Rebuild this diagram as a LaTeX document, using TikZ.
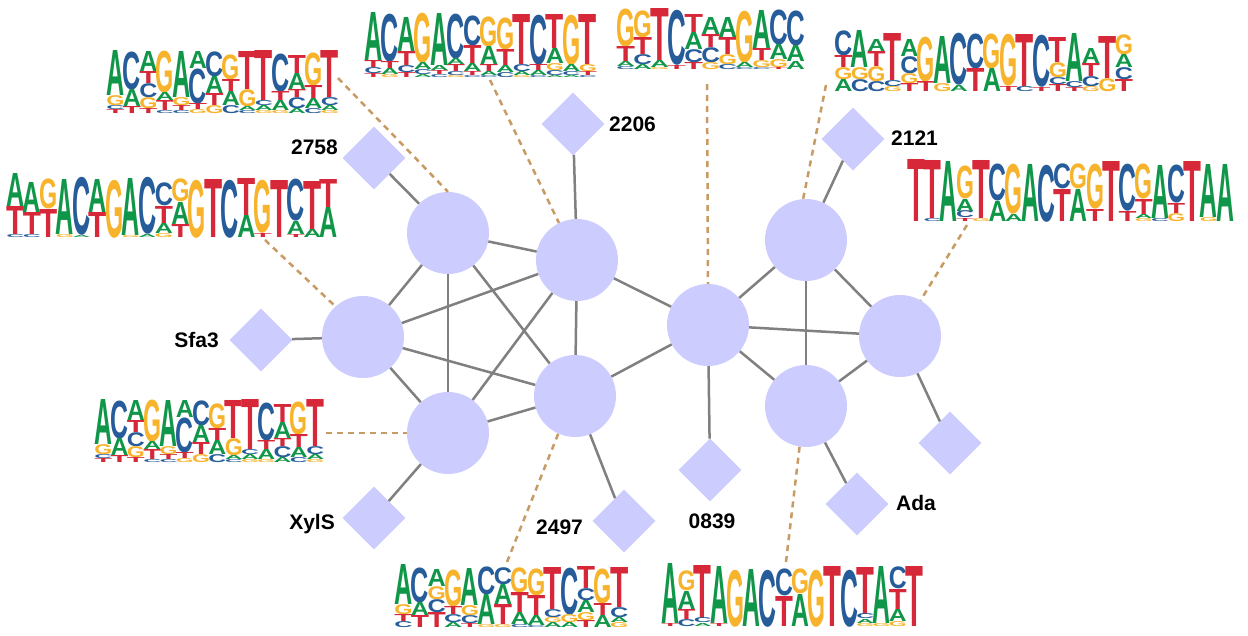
\documentclass[tikz,border=0pt]{standalone}
\usepackage{fontspec}
\setmainfont{Liberation Sans}
\usepackage{graphicx}
\usetikzlibrary{shapes.geometric}
\definecolor{cA}{HTML}{109648}
\definecolor{cC}{HTML}{255C99}
\definecolor{cG}{HTML}{F7B32B}
\definecolor{cT}{HTML}{D62839}
\definecolor{lav}{HTML}{CCCCFF}
\definecolor{edgegrey}{HTML}{808080}
\definecolor{dtan}{RGB}{200,155,100}
\newdimen\lw
\newcommand\Lt[2]{\hbox to\lw{\hss\resizebox*{1.1\lw}{#2pt}{\textcolor{c#1}{#1}}\hss}}
\newcommand\Cl[1]{\vbox{\offinterlineskip\foreach \xl/\xh in {#1}{\Lt{\xl}{\xh}}}\ignorespaces}
\newcommand\LogoOne{%
\Cl{A/45,G/10,C/4,T/4}
\Cl{C/38,A/17,T/7}
\Cl{A/20,T/12,C/14,G/11,T/5}
\Cl{G/42,A/8,T/10,C/3}
\Cl{A/46,G/8,T/5,C/3}
\Cl{A/17,C/35,T/6,G/4}
\Cl{C/25,A/17,T/12,G/8}
\Cl{G/25,T/12,A/14,C/8}
\Cl{T/38,G/17,A/4,C/3}
\Cl{T/50,C/5,A/5,G/3}
\Cl{C/38,T/9,A/10,G/3}
\Cl{T/18,A/16,T/8,C/11,A/5}
\Cl{G/33,T/13,A/10,C/5}
\Cl{T/47,C/8,A/5,G/3}}
\begin{document}
\begin{tikzpicture}[x=1pt,y=-1pt,
  circ/.style={circle, fill=lav, minimum size=82pt, inner sep=0pt},
  dia/.style={diamond, fill=lav, minimum width=63pt, minimum height=63pt, inner sep=0pt, aspect=1},
  lbl/.style={font=\fontsize{21}{24}\selectfont\bfseries, inner sep=0pt, text height=15pt, text depth=0pt},
  gline/.style={draw=edgegrey, line width=2.5pt},
  dline/.style={draw=dtan, line width=2.5pt, dash pattern=on 6pt off 5pt},
  logo/.style={inner sep=0pt, anchor=south west, font=\bfseries}]
\useasboundingbox[fill=white] (0,0) rectangle (1248,635);

% logos
\node[logo] (l1) at (107,114) {\lw=16.5pt \LogoOne};
\node[logo] (l2) at (365,78) {\lw=16.5pt
\Cl{A/48,T/7,C/6,T/4}
\Cl{C/48,T/7,A/6,G/3}
\Cl{A/34,T/14,C/7,T/5}
\Cl{G/50,A/7,C/5,A/3}
\Cl{A/52,A/5,T/4,C/3}
\Cl{C/45,A/6,T/7,C/4,G/2}
\Cl{C/30,T/18,A/8,T/4,C/2}
\Cl{G/30,A/18,T/7,A/4,C/2}
\Cl{G/32,T/16,A/7,C/5}
\Cl{T/50,C/7,A/4,G/2}
\Cl{C/50,T/6,A/5,C/2}
\Cl{T/34,A/15,G/7,C/5,A/2}
\Cl{G/50,A/7,C/4,A/2}
\Cl{T/50,G/7,T/4,C/2}};
\node[logo] (l3) at (617,70) {\lw=17pt
\Cl{G/38,T/15,A/5,C/3}
\Cl{G/27,T/17,C/10,A/5}
\Cl{T/52,A/7,G/2}
\Cl{C/55,T/4}
\Cl{T/18,A/17,C/13,T/7}
\Cl{A/17,T/13,C/15,G/7}
\Cl{A/20,T/17,G/10,C/5}
\Cl{G/52,A/5,C/2}
\Cl{A/38,T/12,G/7,C/2}
\Cl{C/35,A/15,G/8,T/2}
\Cl{C/35,A/16,A/8}};
\node[logo] (l4) at (835,92) {\lw=16.5pt
\Cl{C/25,T/12,G/12,A/12}
\Cl{A/37,G/12,C/12}
\Cl{A/12,T/15,G/15,C/10}
\Cl{T/47,C/6,G/5}
\Cl{A/17,C/17,G/10,T/8}
\Cl{G/45,T/10}
\Cl{A/47,G/8}
\Cl{C/52,A/6}
\Cl{C/35,T/23}
\Cl{G/35,A/23}
\Cl{G/52,T/5}
\Cl{T/52,C/5}
\Cl{C/52,T/4}
\Cl{T/25,G/15,C/7,T/7}
\Cl{A/48,C/6,T/4}
\Cl{A/15,T/13,C/10,G/5}
\Cl{T/42,G/13}
\Cl{G/20,A/13,C/12,T/12}};
\node[logo] (l5) at (7,238) {\lw=16.5pt
\Cl{A/33,T/28,C/3}
\Cl{A/30,T/22,C/3}
\Cl{G/30,T/28}
\Cl{A/55,G/3}
\Cl{C/58,A/2}
\Cl{A/33,T/25}
\Cl{G/58}
\Cl{A/57,G/2}
\Cl{C/57,A/3}
\Cl{C/23,T/17,A/10,G/4}
\Cl{G/23,A/22,T/13}
\Cl{G/58}
\Cl{T/58}
\Cl{C/58}
\Cl{T/37,A/22}
\Cl{G/53,T/4}
\Cl{T/57}
\Cl{C/42,A/13,T/3}
\Cl{T/48,A/8}
\Cl{T/28,A/30}};
\node[logo] (l6) at (908,222) {\lw=16.25pt
\Cl{T/62}
\Cl{T/58,C/3}
\Cl{A/60}
\Cl{G/33,A/12,C/7,T/3}
\Cl{T/58,G/3}
\Cl{C/37,A/20}
\Cl{G/50,A/7}
\Cl{A/57}
\Cl{C/57}
\Cl{C/25,T/32}
\Cl{G/25,A/32}
\Cl{G/45,T/12}
\Cl{T/60}
\Cl{C/47,T/10}
\Cl{G/35,T/15,A/4,G/3}
\Cl{A/53,C/3}
\Cl{C/38,T/10,G/8}
\Cl{T/60}
\Cl{A/53,G/4}
\Cl{A/57}};
\node[logo] (l7) at (95,463) {\lw=16.3pt \LogoOne};
\node[logo] (l8) at (395,628) {\lw=16.6pt
\Cl{A/40,G/10,T/7,C/6}
\Cl{C/35,A/13,T/12}
\Cl{A/17,G/13,C/13,T/15}
\Cl{G/37,T/8,C/8,A/5}
\Cl{A/37,G/10,C/8,T/4}
\Cl{C/28,A/30,G/3}
\Cl{C/17,A/20,T/20,G/3}
\Cl{G/25,T/20,A/12,C/3}
\Cl{G/27,T/20,A/10,C/2}
\Cl{T/42,C/8,G/5,A/5}
\Cl{C/47,G/8,A/5}
\Cl{T/22,C/12,A/12,G/8,T/7}
\Cl{G/35,T/12,A/12}
\Cl{T/40,C/10,A/5,G/5}};
\node[logo] (l9) at (662,627) {\lw=16.25pt
\Cl{A/60,T/3}
\Cl{G/20,A/18,T/10,C/7}
\Cl{T/53,C/5,A/3}
\Cl{A/57,T/3}
\Cl{G/57}
\Cl{A/57}
\Cl{C/57}
\Cl{C/27,T/30}
\Cl{G/25,A/32}
\Cl{G/57}
\Cl{T/60}
\Cl{C/57}
\Cl{T/47,C/5,A/4,G/3}
\Cl{A/57,G/3}
\Cl{C/22,T/20,A/12,G/5}
\Cl{T/60}};

% circles
\node[circ] (c1) at (448,233) {};
\node[circ] (c2) at (577,260) {};
\node[circ] (c3) at (363,337) {};
\node[circ] (c4) at (448,433) {};
\node[circ] (c5) at (575,396) {};
\node[circ] (c6) at (708,325) {};
\node[circ] (c7) at (806,240) {};
\node[circ] (c8) at (900,336) {};
\node[circ] (c9) at (806,406) {};

% diamonds
\node[dia] (d2758) at (374,158) {};
\node[dia] (d2206) at (573,124) {};
\node[dia] (d2121) at (853,139) {};
\node[dia] (dsfa) at (261,340) {};
\node[dia] (dxyl) at (374,518) {};
\node[dia] (d2497) at (624,521) {};
\node[dia] (d0839) at (710,470) {};
\node[dia] (dada) at (857,504) {};
\node[dia] (dun) at (950,443) {};

% labels
\node[lbl, anchor=east] (t2758) at (338,147) {2758};
\node[lbl, anchor=west] (t2206) at (609,124) {2206};
\node[lbl, anchor=west] (t2121) at (891,138) {2121};
\node[lbl, anchor=east] (tsfa) at (219,340) {Sfa3};
\node[lbl, anchor=east] (txyl) at (335,522) {XylS};
\node[lbl, anchor=west] (t2497) at (536,527) {2497};
\node[lbl] (t0839) at (712,521) {0839};
\node[lbl, anchor=west] (tada) at (896,503) {Ada};

% grey edges
\foreach \a/\b in {c1/c2,c1/c3,c1/c4,c1/c5,c2/c3,c2/c4,c2/c5,c3/c4,c3/c5,c4/c5,c2/c6,c5/c6,
  c6/c7,c6/c8,c6/c9,c7/c8,c7/c9,c8/c9,
  d2758/c1,d2206/c2,d2121/c7,dsfa/c3,dxyl/c4,d2497/c5,d0839/c6,dada/c9,dun/c8}
  \draw[gline] (\a) -- (\b);

% dashed links
\coordinate (p1) at (338,78);
\coordinate (p2) at (490,80);
\coordinate (p3) at (707,84);
\coordinate (p4) at (826,85);
\coordinate (p5) at (265,240);
\coordinate (p6) at (967,225);
\coordinate (p7) at (326,433);
\coordinate (p8) at (507,562);
\coordinate (p9) at (786,562);
\draw[dline] (p1) -- (c1.north);
\draw[dline] (p2) -- (c2.116);
\draw[dline] (p3) -- (c6.north);
\draw[dline] (p4) -- (c7.94);
\draw[dline] (p5) -- (c3.132);
\draw[dline] (p6) -- (c8.60);
\draw[dline] (p7) -- (c4.west);
\draw[dline] (p8) -- (c5.246);
\draw[dline] (p9) -- (c9.261);
\end{tikzpicture}
\end{document}
